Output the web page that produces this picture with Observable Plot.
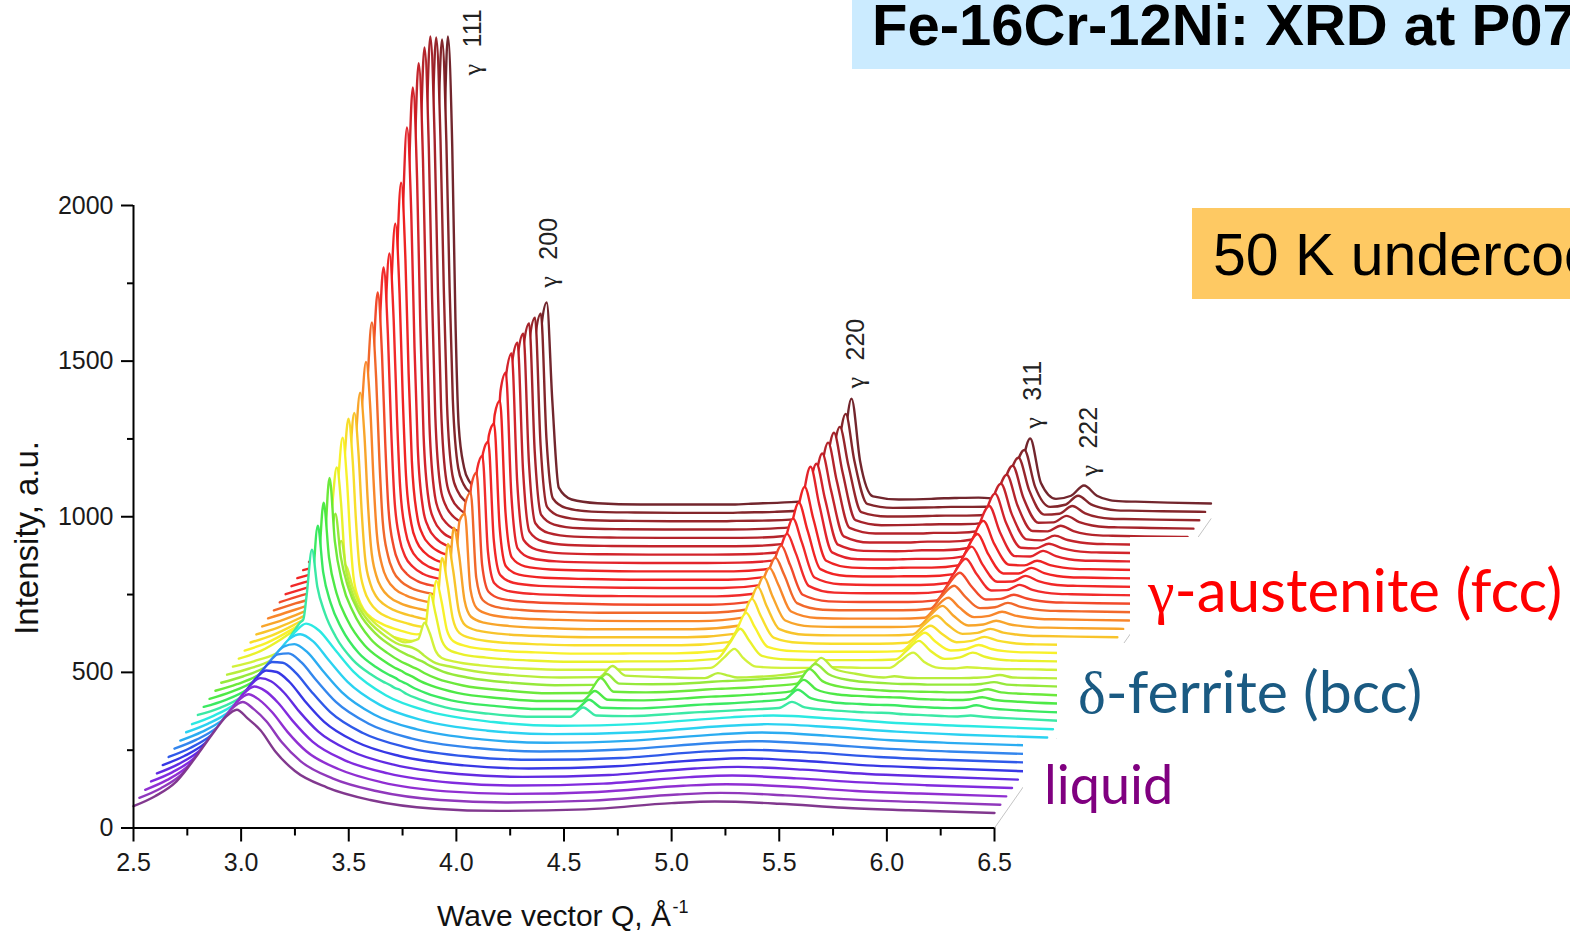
<!DOCTYPE html>
<html>
<head>
<meta charset="utf-8">
<script src="https://cdn.jsdelivr.net/npm/d3@7"></script>
<script src="https://cdn.jsdelivr.net/npm/@observablehq/plot@0.6"></script>
<style>
html,body{margin:0;padding:0;background:#fff;overflow:hidden;width:1570px;height:933px}
#stage{position:relative;width:1570px;height:933px;overflow:hidden;font-family:"Liberation Sans",Arial,sans-serif}
#stage svg{position:absolute;left:0;top:0;overflow:visible}
.box,.mask,.phase{position:absolute;white-space:nowrap}
.mask{background:#fff}
.phase{font-family:Lato,"Open Sans",sans-serif}
.phase b{font-family:"Liberation Serif",serif;font-weight:normal}
</style>
</head>
<body>
<div id="stage">
  <div id="chart"></div>
  <div class="mask" style="left:1130px;top:537px;width:440px;height:106px"></div>
  <div class="mask" style="left:1057px;top:643px;width:513px;height:96px"></div>
  <div class="mask" style="left:1023px;top:739px;width:547px;height:194px"></div>
  <div class="box" style="left:852px;top:0;width:718px;height:69px;background:#cbebff;color:#000;font-weight:bold;font-size:58px;line-height:58px;overflow:hidden"><span style="position:absolute;left:20px;top:-4px">Fe-16Cr-12Ni: XRD at P07</span></div>
  <div class="box" style="left:1192px;top:208px;width:378px;height:91px;background:#fec963;color:#000;font-size:59px;line-height:59px;overflow:hidden"><span style="position:absolute;left:21px;top:18px">50 K undercooling</span></div>
  <div class="phase" style="left:1148px;top:556px;font-size:60px;line-height:66px;color:#ff0000"><b>γ</b>-austenite (fcc)</div>
  <div class="phase" style="left:1078px;top:658px;font-size:59px;line-height:66px;color:#1a5a82"><b>δ</b>-ferrite (bcc)</div>
  <div class="phase" style="left:1044px;top:751px;font-size:54px;line-height:66px;color:#800080">liquid</div>
</div>
<script>
const traceColors = ["#7a2d88","#8a2db8","#8a24d0","#7a20dc","#5a20e0","#2c2ce4","#2450e8","#2880ec","#20a8f0","#20d0f0","#20e8e0","#30e8a0","#30e858","#44e83c","#64e830","#90e830","#b4ec30","#d0f030","#e8f020","#f8f020","#f8dc20","#f8c020","#f8a020","#f88020","#f06020","#f04020","#f02020","#f01c1c","#f01818","#ec1818","#e01820","#d01820","#c01820","#b01820","#a01820","#901a20","#7c1a20","#6a1a22"];

const qLiquid = [2.5,2.6,2.7,2.8,2.87,2.93,2.98,3.03,3.09,3.16,3.25,3.4,3.6,3.9,4.2,4.6,5.0,5.2,5.5,5.8,6.1,6.5];
const qCrystal = [2.5,2.6,2.7,2.8,2.87,2.91,2.935,2.955,2.975,2.99,3.005,3.03,3.055,3.09,3.14,3.22,3.3,3.36,3.39,3.414,3.44,3.47,3.53,3.65,3.85,4.05,4.23,4.29,4.35,4.5,4.72,4.78,4.83,4.87,4.93,5.05,5.2,5.26,5.32,5.42,5.55,5.6,5.66,5.71,5.78,5.85,5.91,5.97,6.03,6.09,6.15,6.3,6.5];

const trace00 = [70,102,150,238,305,358,380,352,314,245,183,130,90,62,55,60,80,85,78,65,57,48];
const trace01 = [70,101,148,236,303,357,378,356,316,250,187,132,92,63,55,61,81,86,78,65,57,48];
const trace02 = [69,100,146,232,300,354,376,358,318,256,192,135,93,64,56,62,82,87,79,65,57,48];
const trace03 = [69,99,144,228,296,351,374,360,322,262,197,137,95,65,56,62,83,88,79,66,57,48];
const trace04 = [68,98,142,224,292,348,374,364,328,268,202,140,96,66,57,63,84,89,80,66,58,48];
const trace05 = [68,97,140,220,288,344,372,367,334,274,207,142,97,67,57,64,84,90,80,66,58,48];
const trace06 = [67,96,138,216,284,340,372,370,338,280,212,145,99,68,58,64,85,90,81,67,58,49];
const trace07 = [67,95,136,212,280,336,370,373,344,286,217,148,100,69,58,65,85,91,81,67,58,49];
const trace08 = [66,94,134,208,276,332,368,376,350,292,222,150,102,70,59,66,86,92,82,67,58,49];
const trace09 = [66,93,132,204,270,326,366,381,358,300,228,154,104,71,60,66,86,92,82,68,58,49];
const trace10 = [65,92,130,200,264,320,362,388,366,308,234,158,106,72,60,67,87,93,82,68,59,49];
const trace11 = [68,90,125,190,252,295,325,345,365,375,450,599,480,395,320,245,200,175,165,155,148,135,118,92,72,62,62,92,66,64,72,75,77,78,80,85,90,110,92,84,78,76,75,74,70,68,66,64,63,66,62,56,49];
const trace12 = [67,89,122,185,245,285,312,330,350,372,460,649,500,400,320,240,195,170,160,150,142,130,112,88,70,60,60,90,64,62,70,73,75,76,78,83,92,122,95,82,76,74,73,72,68,66,64,63,64,72,63,55,49];
const trace13 = [66,88,120,180,238,276,300,318,340,370,470,696,520,405,320,238,192,166,156,146,138,126,108,85,68,59,59,91,63,61,68,71,73,74,76,81,90,127,96,80,74,72,71,70,66,64,63,62,64,71,62,55,49];
const trace14 = [65,86,116,172,228,265,290,310,335,375,490,749,545,410,318,232,186,160,150,142,134,122,104,82,66,57,58,106,62,60,66,69,71,72,74,79,88,135,96,76,68,66,64,63,62,61,60,60,62,70,60,54,49];
const trace15 = [64,84,112,165,218,255,280,300,325,360,450,607,470,370,290,220,178,155,146,138,130,118,100,80,64,56,57,92,61,59,64,67,69,70,72,77,86,124,92,72,64,62,60,60,58,58,58,58,60,66,58,54,49];
const trace16 = [63,82,108,160,225,300,380,420,410,400,430,493,390,310,250,195,160,150,139,125,112,100,90,74,60,54,55,91,60,56,52,68,60,54,55,60,78,117,82,66,54,58,53,52,52,52,52,53,55,62,54,52,49];
const trace17 = [62,80,104,150,230,360,500,560,500,430,400,380,320,260,215,170,140,150,203,170,115,90,78,66,56,52,52,53,53,53,58,90,119,90,62,58,58,60,60,58,58,80,107,78,58,56,60,58,55,54,54,52,49];
const trace18 = [61,85,125,175,220,320,560,675,560,400,290,230,195,170,150,130,118,135,269,205,125,92,76,64,55,51,51,52,52,52,60,110,157,120,70,58,56,56,56,56,58,85,118,88,60,65,80,66,58,55,54,52,49];
const trace19 = [60,84,120,165,205,340,610,744,610,430,300,225,190,165,145,125,112,130,284,220,125,90,74,62,54,50,50,51,51,51,60,118,181,135,72,58,56,56,56,56,58,85,117,88,60,64,78,65,58,55,54,52,49];
const trace20 = [59,82,115,155,195,340,630,778,640,450,310,225,188,160,140,122,110,128,331,250,135,90,72,60,53,50,50,50,50,50,60,125,199,145,75,58,55,55,55,55,58,85,113,88,60,64,77,65,58,54,53,51,49];
const trace21 = [58,80,110,148,188,335,625,770,635,445,305,220,182,156,136,118,107,130,349,265,135,88,70,59,52,49,49,49,49,49,60,130,211,150,75,57,55,55,55,55,58,88,118,90,60,63,76,64,58,54,53,51,49];
const trace22 = [57,79,106,142,182,345,660,808,670,465,315,220,180,152,132,115,105,135,374,290,140,88,69,58,51,48,48,48,48,48,60,135,216,155,76,57,55,55,55,55,58,90,123,92,60,63,75,64,58,54,53,51,49];
const trace23 = [56,78,102,136,176,370,720,880,730,500,330,225,180,150,130,112,103,140,370,392,150,88,68,57,51,48,47,47,47,47,60,140,218,165,78,57,55,55,55,55,58,90,122,92,60,64,77,65,58,54,53,51,49];
const trace24 = [55,77,98,130,170,395,790,980,800,540,345,230,180,148,126,110,100,145,400,433,160,88,66,56,50,47,47,47,47,47,60,145,224,170,78,57,55,55,55,55,60,98,134,100,62,65,79,66,58,54,53,51,49];
const trace25 = [54,76,95,125,165,415,840,1049,850,565,355,230,178,145,122,106,98,150,430,470,175,88,65,55,50,47,46,46,46,46,60,150,236,175,78,57,55,55,55,55,60,105,149,108,63,65,78,66,58,54,53,51,49];
const trace26 = [53,74,92,120,162,430,880,1103,890,590,365,230,175,142,118,102,95,155,455,498,190,88,64,54,49,47,46,46,46,46,60,155,247,185,80,58,56,56,56,56,62,115,167,118,65,66,83,67,58,54,53,51,49];
const trace27 = [52,72,90,116,160,440,900,1121,905,600,370,228,172,138,114,99,92,158,480,516,200,88,63,53,49,47,46,46,46,46,60,165,269,195,80,58,56,56,56,56,62,120,179,122,66,67,85,68,58,54,53,51,49];
const trace28 = [51,70,88,112,155,460,960,1190,965,630,380,225,168,134,110,96,90,160,510,547,215,88,62,52,48,46,46,46,46,46,60,175,293,205,80,58,56,56,57,57,64,128,193,128,66,66,84,67,58,54,53,51,49];
const trace29 = [50,68,86,108,150,490,1040,1295,1050,680,400,222,164,130,106,93,87,162,550,594,235,90,62,52,48,46,46,46,46,46,60,185,317,215,80,58,56,57,58,58,66,135,208,135,67,65,80,66,58,54,53,51,49];
const trace30 = [49,66,84,104,146,530,1150,1445,1170,740,420,220,160,125,102,90,85,165,600,657,265,92,62,51,47,46,46,46,46,47,60,200,355,235,80,58,57,58,59,59,68,145,229,145,68,67,85,68,58,54,53,51,49];
const trace31 = [48,64,82,100,142,560,1220,1547,1250,780,430,215,155,120,98,87,82,165,630,692,280,93,62,50,47,46,46,46,46,47,60,195,338,225,78,58,57,58,60,60,69,150,242,150,68,66,81,67,58,54,53,51,49];
const trace32 = [47,62,80,98,140,570,1260,1598,1290,810,440,210,150,116,95,85,80,165,640,700,290,93,62,50,47,46,46,46,46,47,60,195,344,228,78,58,58,59,61,61,70,155,247,150,68,65,80,66,58,54,53,51,49];
const trace33 = [46,60,78,96,138,575,1280,1622,1300,820,440,205,148,114,94,84,79,165,640,702,290,93,62,50,47,46,46,46,46,47,60,195,352,230,78,60,60,60,62,62,70,155,249,150,68,67,85,68,58,54,53,51,49];
const trace34 = [46,58,76,94,136,575,1285,1630,1300,820,435,200,145,112,92,82,78,165,645,708,295,93,62,50,47,46,46,46,46,48,60,195,357,230,76,60,61,62,63,63,70,158,251,148,68,69,90,70,59,54,53,51,49];
const trace35 = [45,56,74,92,134,565,1265,1600,1270,800,425,195,142,110,91,81,77,165,635,700,290,92,62,50,47,46,46,46,47,48,60,190,349,225,75,61,62,63,64,64,70,158,250,145,67,70,95,71,59,54,53,51,49];
const trace36 = [45,54,72,90,132,555,1240,1567,1240,770,410,190,138,108,90,80,76,165,620,686,285,92,62,50,47,46,46,46,47,49,60,188,364,215,75,62,63,64,65,65,68,155,248,130,65,72,101,73,60,54,53,51,49];
const trace37 = [45,52,62,85,130,550,1150,1550,1200,640,300,165,120,95,78,72,70,165,620,695,380,100,62,50,46,46,46,46,48,52,62,150,386,185,72,62,64,66,67,68,62,110,258,115,64,74,107,74,60,56,55,52,49];

const traces = [trace00,trace01,trace02,trace03,trace04,trace05,trace06,trace07,trace08,trace09,trace10,trace11,trace12,trace13,trace14,trace15,trace16,trace17,trace18,trace19,trace20,trace21,trace22,trace23,trace24,trace25,trace26,trace27,trace28,trace29,trace30,trace31,trace32,trace33,trace34,trace35,trace36,trace37];

const xStep = 0.02718;   // waterfall shift per trace, in Q
const yStep = 26.85;     // waterfall shift per trace, in intensity

const xMajor = [2.5,3,3.5,4,4.5,5,5.5,6,6.5];
const xMinor = [2.75,3.25,3.75,4.25,4.75,5.25,5.75,6.25];
const yMajor = [0,500,1000,1500,2000];
const yMinor = [250,750,1250,1750];

const peakHkl = ["111","200","220","311","222"];
const peakLabelQ = [4.078,4.43,5.855,6.68,6.94];
const peakLabelI = [2418,1736,1412,1283,1129];
const hklOffset = 90;

const rowsOf = (vals,i) => {
  const qs = vals.length === qLiquid.length ? qLiquid : qCrystal;
  return vals.map((v,k) => ({i, x: qs[k] + i*xStep, top: v + i*yStep, base: i*yStep}));
};

const marks = [];
for (let i = traces.length-1; i >= 0; i--) {
  const rows = rowsOf(traces[i], i);
  marks.push(Plot.areaY(rows,{x:"x",y1:"base",y2:"top",fill:"#fff",curve:"monotone-x"}));
  marks.push(Plot.line(rows,{x:"x",y:"top",z:"i",stroke:"i",strokeWidth:2.4,curve:"monotone-x",strokeOpacity:0.95}));
}

const depth = [0,traces.length-1].map(i => ({x:6.5+i*xStep,y:i*yStep}));
marks.push(Plot.line(depth,{x:"x",y:"y",stroke:"#c4c4c4",strokeWidth:1}));

marks.push(Plot.ruleX([2.5],{y1:0,y2:2000,stroke:"#000",strokeWidth:2}));
marks.push(Plot.ruleY([0],{x1:2.5,x2:6.5,stroke:"#000",strokeWidth:2}));
marks.push(Plot.axisX(xMajor,{tickSize:14,tickPadding:11,fontSize:25,tickFormat:d3.format(".1f"),label:null,strokeWidth:2,stroke:"#000",fill:"#1a1a1a"}));
marks.push(Plot.axisX(xMinor,{tickSize:8,tickFormat:()=>"",label:null,strokeWidth:2,stroke:"#000"}));
marks.push(Plot.axisY(yMajor,{tickSize:12,tickPadding:8,fontSize:25,tickFormat:d3.format("d"),label:null,strokeWidth:2,stroke:"#000",fill:"#1a1a1a"}));
marks.push(Plot.axisY(yMinor,{tickSize:6,tickFormat:()=>"",label:null,strokeWidth:2,stroke:"#000"}));

marks.push(Plot.text(peakHkl,{x:(d,k)=>peakLabelQ[k],y:(d,k)=>peakLabelI[k],text:()=>"γ",rotate:-90,textAnchor:"start",fontSize:26,fontFamily:"Liberation Serif",fill:"#222"}));
marks.push(Plot.text(peakHkl,{x:(d,k)=>peakLabelQ[k],y:(d,k)=>peakLabelI[k]+hklOffset,text:d=>d,rotate:-90,textAnchor:"start",fontSize:25,fontFamily:"Liberation Sans",fill:"#222"}));

const xTitle = [{x:3.91,y:-283,t:"Wave vector Q, Å"}];
marks.push(Plot.text(xTitle,{x:"x",y:"y",text:"t",textAnchor:"start",fontSize:30,fontFamily:"Liberation Sans",fill:"#111"}));
marks.push(Plot.text([{x:5.004,y:-256,t:"-1"}],{x:"x",y:"y",text:"t",textAnchor:"start",fontSize:18,fontFamily:"Liberation Sans",fill:"#111"}));
marks.push(Plot.text([{x:2.008,y:932,t:"Intensity, a.u."}],{x:"x",y:"y",text:"t",rotate:-90,textAnchor:"middle",fontSize:33,fontFamily:"Liberation Sans",fill:"#111"}));

const chart = Plot.plot({
  width:1570,height:933,
  marginLeft:133,marginRight:576,marginTop:205,marginBottom:105.5,
  style:{background:"transparent",overflow:"visible",fontFamily:"Liberation Sans"},
  x:{domain:[2.5,6.5],range:[133,994],axis:null},
  y:{domain:[0,2000],range:[827.5,205],axis:null},
  color:{type:"ordinal",domain:d3.range(traces.length),range:traceColors},
  marks
});
document.getElementById("chart").appendChild(chart);
</script>
</body>
</html>
